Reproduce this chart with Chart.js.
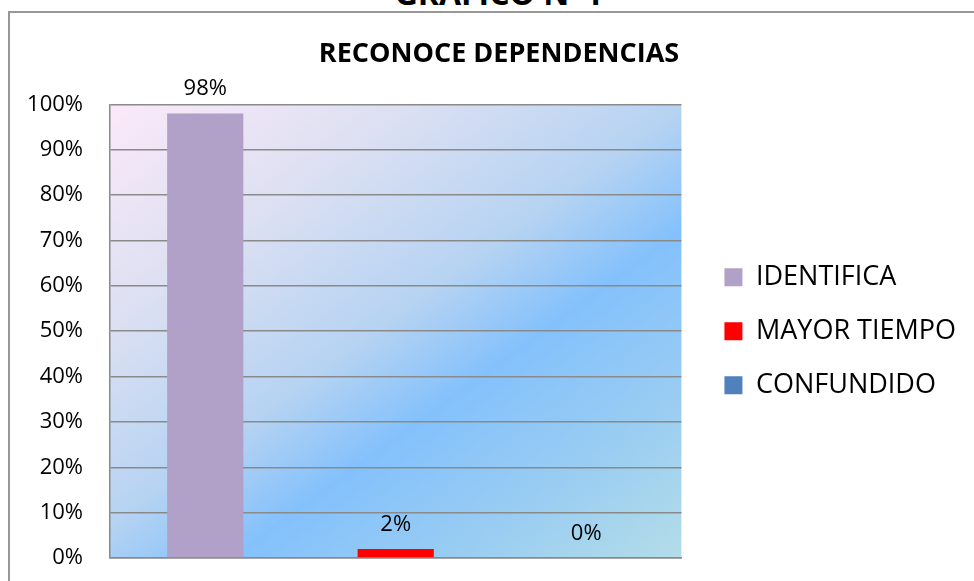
<!DOCTYPE html>
<html><head><meta charset="utf-8">
<script src="https://cdn.jsdelivr.net/npm/chart.js@4.4.0/dist/chart.umd.min.js"></script>
<style>
html,body{margin:0;padding:0;background:#fff;width:974px;height:581px;overflow:hidden;}
#frame{position:absolute;left:8px;top:11px;width:966px;height:570px;border-top:2px solid #979797;border-left:2px solid #979797;box-sizing:border-box;}
#sup{position:absolute;left:0;width:996px;top:-23px;text-align:center;font:bold 32px "Open Sans";line-height:32px;color:#000;white-space:nowrap;}
canvas{position:absolute;left:0;top:0;}
</style></head><body>
<div id="frame"></div>
<div id="sup">GRAFICO N°4</div>
<canvas id="c" width="974" height="581"></canvas>
<script>
const chartTitle = 'RECONOCE DEPENDENCIAS';
const categories = [''];
const seriesNames = ['IDENTIFICA', 'MAYOR TIEMPO', 'CONFUNDIDO'];
const seriesValues = [98, 2, 0];
const seriesColors = ['#B1A0C7', '#FF0000', '#4F81BD'];
const yTickValues = [0, 10, 20, 30, 40, 50, 60, 70, 80, 90, 100];

const FONT = '"Open Sans", sans-serif';

const plotBackground = {
  id: 'plotBackground',
  beforeDraw(chart) {
    const {ctx, chartArea: a} = chart;
    const w = a.right - a.left, h = a.bottom - a.top;
    const dx = 0.59, dy = 0.81;
    const L = w * dx + h * dy;
    const g = ctx.createLinearGradient(a.left, a.top, a.left + dx * L, a.top + dy * L);
    g.addColorStop(0, '#FBE9F9');
    g.addColorStop(0.25, '#DCE0F2');
    g.addColorStop(0.48, '#B6D3F2');
    g.addColorStop(0.62, '#84C1FC');
    g.addColorStop(0.8, '#98CCF2');
    g.addColorStop(1, '#B4DDE8');
    ctx.save();
    ctx.fillStyle = g;
    ctx.fillRect(a.left, a.top, w, h);
    ctx.restore();
  }
};

const valueLabels = {
  id: 'valueLabels',
  afterDatasetsDraw(chart) {
    const ctx = chart.ctx;
    ctx.save();
    ctx.font = '22px ' + FONT;
    ctx.fillStyle = '#000';
    ctx.textAlign = 'center';
    ctx.textBaseline = 'alphabetic';
    chart.data.datasets.forEach((ds, i) => {
      chart.getDatasetMeta(i).data.forEach((el, j) => {
        ctx.fillText(ds.data[j] + '%', el.x, el.y - 18);
      });
    });
    ctx.restore();
  }
};

const layoutTweaks = {
  id: 'layoutTweaks',
  afterLayout(chart) {
    const a = chart.chartArea;
    const lg = chart.legend;
    if (lg) {
      lg.left = a.right + 16;
      lg.right = lg.left + lg.width;
      lg.top = a.top;
      lg.bottom = a.bottom;
    }
    const tb = chart.titleBlock;
    if (tb) {
      const shift = 499 - (tb.left + tb.right) / 2;
      tb.left += shift;
      tb.right += shift;
    }
  }
};

const datasets = seriesNames.map((name, i) => ({
  label: name,
  data: [seriesValues[i]],
  backgroundColor: seriesColors[i],
  borderWidth: 0,
  categoryPercentage: 1.0,
  barPercentage: 0.4
}));

new Chart(document.getElementById('c'), {
  type: 'bar',
  data: { labels: categories, datasets },
  plugins: [plotBackground, valueLabels, layoutTweaks],
  options: {
    responsive: false,
    animation: false,
    layout: { padding: { top: 0, left: 0, right: 24, bottom: 23 } },
    plugins: {
      title: {
        display: true,
        text: chartTitle,
        color: '#000',
        font: { family: FONT, size: 27, weight: 'bold', lineHeight: 1.2 },
        padding: { top: 38, bottom: 34 }
      },
      legend: {
        position: 'right',
        align: 'center',
        maxWidth: 400,
        labels: {
          color: '#000',
          font: { family: FONT, size: 27 },
          boxWidth: 18,
          boxHeight: 18,
          padding: 27
        }
      },
      tooltip: { enabled: false }
    },
    scales: {
      x: {
        grid: { display: false },
        ticks: { display: false },
        border: { display: true, color: '#8a8a8a', width: 1.5 },
        afterFit(s) { s.height = 0; }
      },
      y: {
        min: 0,
        max: 100,
        afterBuildTicks(s) { s.ticks = yTickValues.map(v => ({ value: v })); },
        ticks: {
          color: '#000',
          font: { family: FONT, size: 22 },
          padding: 27,
          callback: v => v + '%'
        },
        grid: { color: '#8a8a8a', lineWidth: 1.5, drawTicks: false },
        border: { display: true, color: '#8a8a8a', width: 1.5 },
        afterFit(s) { s.width = 110; s.paddingTop = 0; s.paddingBottom = 0; }
      }
    }
  }
});
</script>
</body></html>
